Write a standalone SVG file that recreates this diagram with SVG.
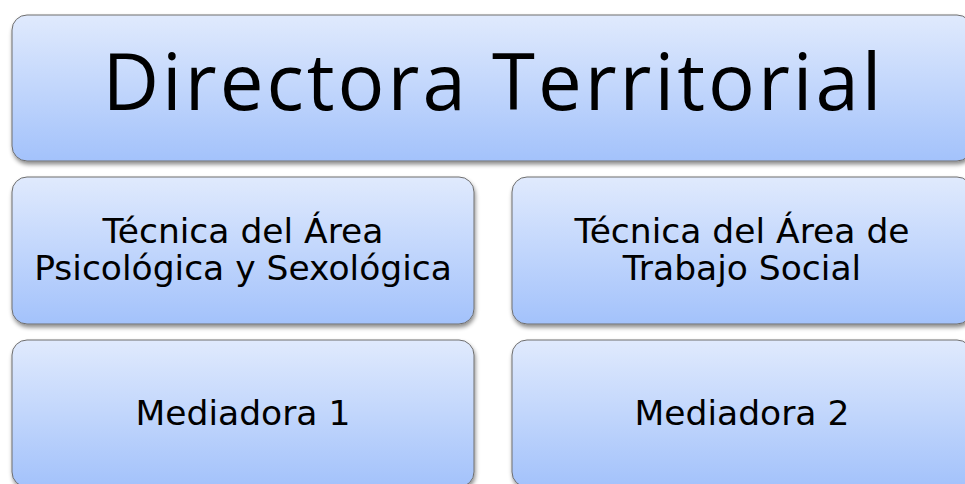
<svg xmlns="http://www.w3.org/2000/svg" width="965" height="484" viewBox="0 0 965 484">
<defs>
<linearGradient id="g" x1="0" y1="0" x2="0" y2="1">
<stop offset="0" stop-color="#e0eafd"/>
<stop offset="1" stop-color="#a3c2fb"/>
</linearGradient>
<filter id="sh" x="-5%" y="-5%" width="110%" height="115%">
<feDropShadow dx="1" dy="3" stdDeviation="2" flood-color="#000" flood-opacity="0.45"/>
</filter>
<style>
.box{fill:url(#g);stroke:#6e6e6e;stroke-width:1;filter:url(#sh)}
.t{font-family:"DejaVu Sans",Verdana,sans-serif;font-size:34.5px;fill:#000;text-anchor:middle}
.big{font-family:"Open Sans","Noto Sans",sans-serif;font-size:78px;fill:#000;text-anchor:middle}
</style>
</defs>
<rect width="965" height="484" fill="#fff"/>
<g id="directora">
<rect class="box" x="12" y="15" width="960" height="146" rx="15"/>
<text class="big" x="492" y="110" textLength="779" lengthAdjust="spacing">Directora Territorial</text>
</g>
<g id="tecnica-psico">
<rect class="box" x="12" y="177" width="462" height="147" rx="15"/>
<text class="t" x="243" y="243">Técnica del Área</text>
<text class="t" x="243" y="280">Psicológica y Sexológica</text>
</g>
<g id="tecnica-social">
<rect class="box" x="512" y="177" width="460" height="147" rx="15"/>
<text class="t" x="742" y="243">Técnica del Área de</text>
<text class="t" x="742" y="280">Trabajo Social</text>
</g>
<g id="mediadora1">
<rect class="box" x="12" y="340" width="462" height="147" rx="15"/>
<text class="t" x="243" y="425">Mediadora 1</text>
</g>
<g id="mediadora2">
<rect class="box" x="512" y="340" width="460" height="147" rx="15"/>
<text class="t" x="742" y="425">Mediadora 2</text>
</g>
<g id="connectors"/>
</svg>
